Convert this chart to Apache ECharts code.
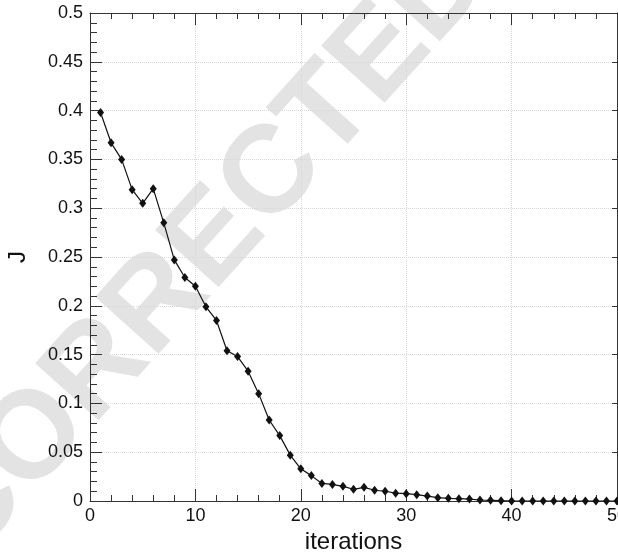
<!DOCTYPE html>
<html>
<head>
<meta charset="utf-8">
<script src="https://cdn.jsdelivr.net/npm/echarts@6/dist/echarts.min.js"></script>
<style>
html,body{margin:0;padding:0;background:#fff;}
#c{width:618px;height:555px;}
</style>
</head>
<body>
<div id="c"></div>
<script>
const iterations = [1,2,3,4,5,6,7,8,9,10,11,12,13,14,15,16,17,18,19,20,21,22,23,24,25,26,27,28,29,30,31,32,33,34,35,36,37,38,39,40,41,42,43,44,45,46,47,48,49,50];
const jValues = [0.398,0.367,0.350,0.319,0.305,0.320,0.285,0.247,0.229,0.220,
                 0.199,0.185,0.154,0.148,0.133,0.110,0.083,0.067,0.047,0.033,
                 0.026,0.018,0.017,0.015,0.012,0.014,0.011,0.010,0.008,0.0075,
                 0.0065,0.005,0.0034,0.0027,0.0024,0.002,0.001,0.0007,0.0003,0.0,
                 0.0,0.0,0.0,0.0,0.0,0.0,0.0,0.0,0.0,0.0];
const xName = 'iterations';
const yName = 'J';
const watermark = 'CORRECTED';

const FONT = '"Liberation Sans", Arial, Helvetica, sans-serif';
const axisColor = '#333';

const chart = echarts.init(document.getElementById('c'), null, {renderer:'canvas'});
chart.setOption({
  animation:false,
  backgroundColor:'#fff',
  grid:{left:90, right:1, top:13, bottom:54, outerBoundsMode:'none', containLabel:false},
  graphic:[{
    type:'text', x:206, y:250, rotation:48*Math.PI/180, z:-10, silent:true,
    style:{text:watermark, fill:'#e3e3e3', fontSize:124, fontWeight:'bold', fontFamily:FONT, align:'center', verticalAlign:'middle'}
  }],
  xAxis:[{
    type:'value', min:0, max:50, interval:10, position:'bottom',
    name:xName, nameLocation:'middle', nameGap:26,
    nameTextStyle:{fontFamily:FONT, fontSize:24, color:'#111'},
    axisLine:{show:true, onZero:false, lineStyle:{color:axisColor, width:1}},
    axisTick:{show:true, inside:true, length:12, lineStyle:{color:axisColor}},
    minorTick:{show:true, splitNumber:5, length:6, lineStyle:{color:axisColor}},
    axisLabel:{fontFamily:FONT, fontSize:18, color:'#111', margin:6, hideOverlap:false},
    splitLine:{show:true, lineStyle:{color:'#d8d8d8', type:'dotted', width:1}}
  },{
    type:'value', min:0, max:50, interval:10, position:'top',
    axisLine:{show:true, onZero:false, lineStyle:{color:axisColor, width:1}},
    axisTick:{show:true, inside:true, length:12, lineStyle:{color:axisColor}},
    minorTick:{show:true, splitNumber:5, length:6, lineStyle:{color:axisColor}},
    axisLabel:{show:false},
    splitLine:{show:false}
  }],
  yAxis:[{
    type:'value', min:0, max:0.5, interval:0.05, position:'left',
    name:yName, nameLocation:'middle', nameGap:60, nameRotate:90,
    nameTextStyle:{fontFamily:FONT, fontSize:24, color:'#111'},
    axisLine:{show:true, onZero:false, lineStyle:{color:axisColor, width:1}},
    axisTick:{show:true, inside:true, length:12, lineStyle:{color:axisColor}},
    minorTick:{show:true, splitNumber:5, length:7, lineStyle:{color:axisColor}},
    axisLabel:{fontFamily:FONT, fontSize:18, color:'#111', margin:7,
      formatter:function(v){return String(parseFloat(v.toFixed(2)));}},
    splitLine:{show:true, lineStyle:{color:'#d8d8d8', type:'dotted', width:1}}
  },{
    type:'value', min:0, max:0.5, interval:0.05, position:'right',
    axisLine:{show:true, onZero:false, lineStyle:{color:axisColor, width:1}},
    axisTick:{show:true, inside:true, length:5, lineStyle:{color:axisColor}},
    axisLabel:{show:false},
    splitLine:{show:false}
  }],
  series:[{
    type:'line', xAxisIndex:0, yAxisIndex:0,
    data:iterations.map(function(x,i){return [x, jValues[i]];}),
    symbol:'diamond', symbolSize:[7,9], showSymbol:true,
    itemStyle:{color:'#111'},
    lineStyle:{color:'#111', width:1.2},
    z:5
  }]
});
</script>
</body>
</html>
